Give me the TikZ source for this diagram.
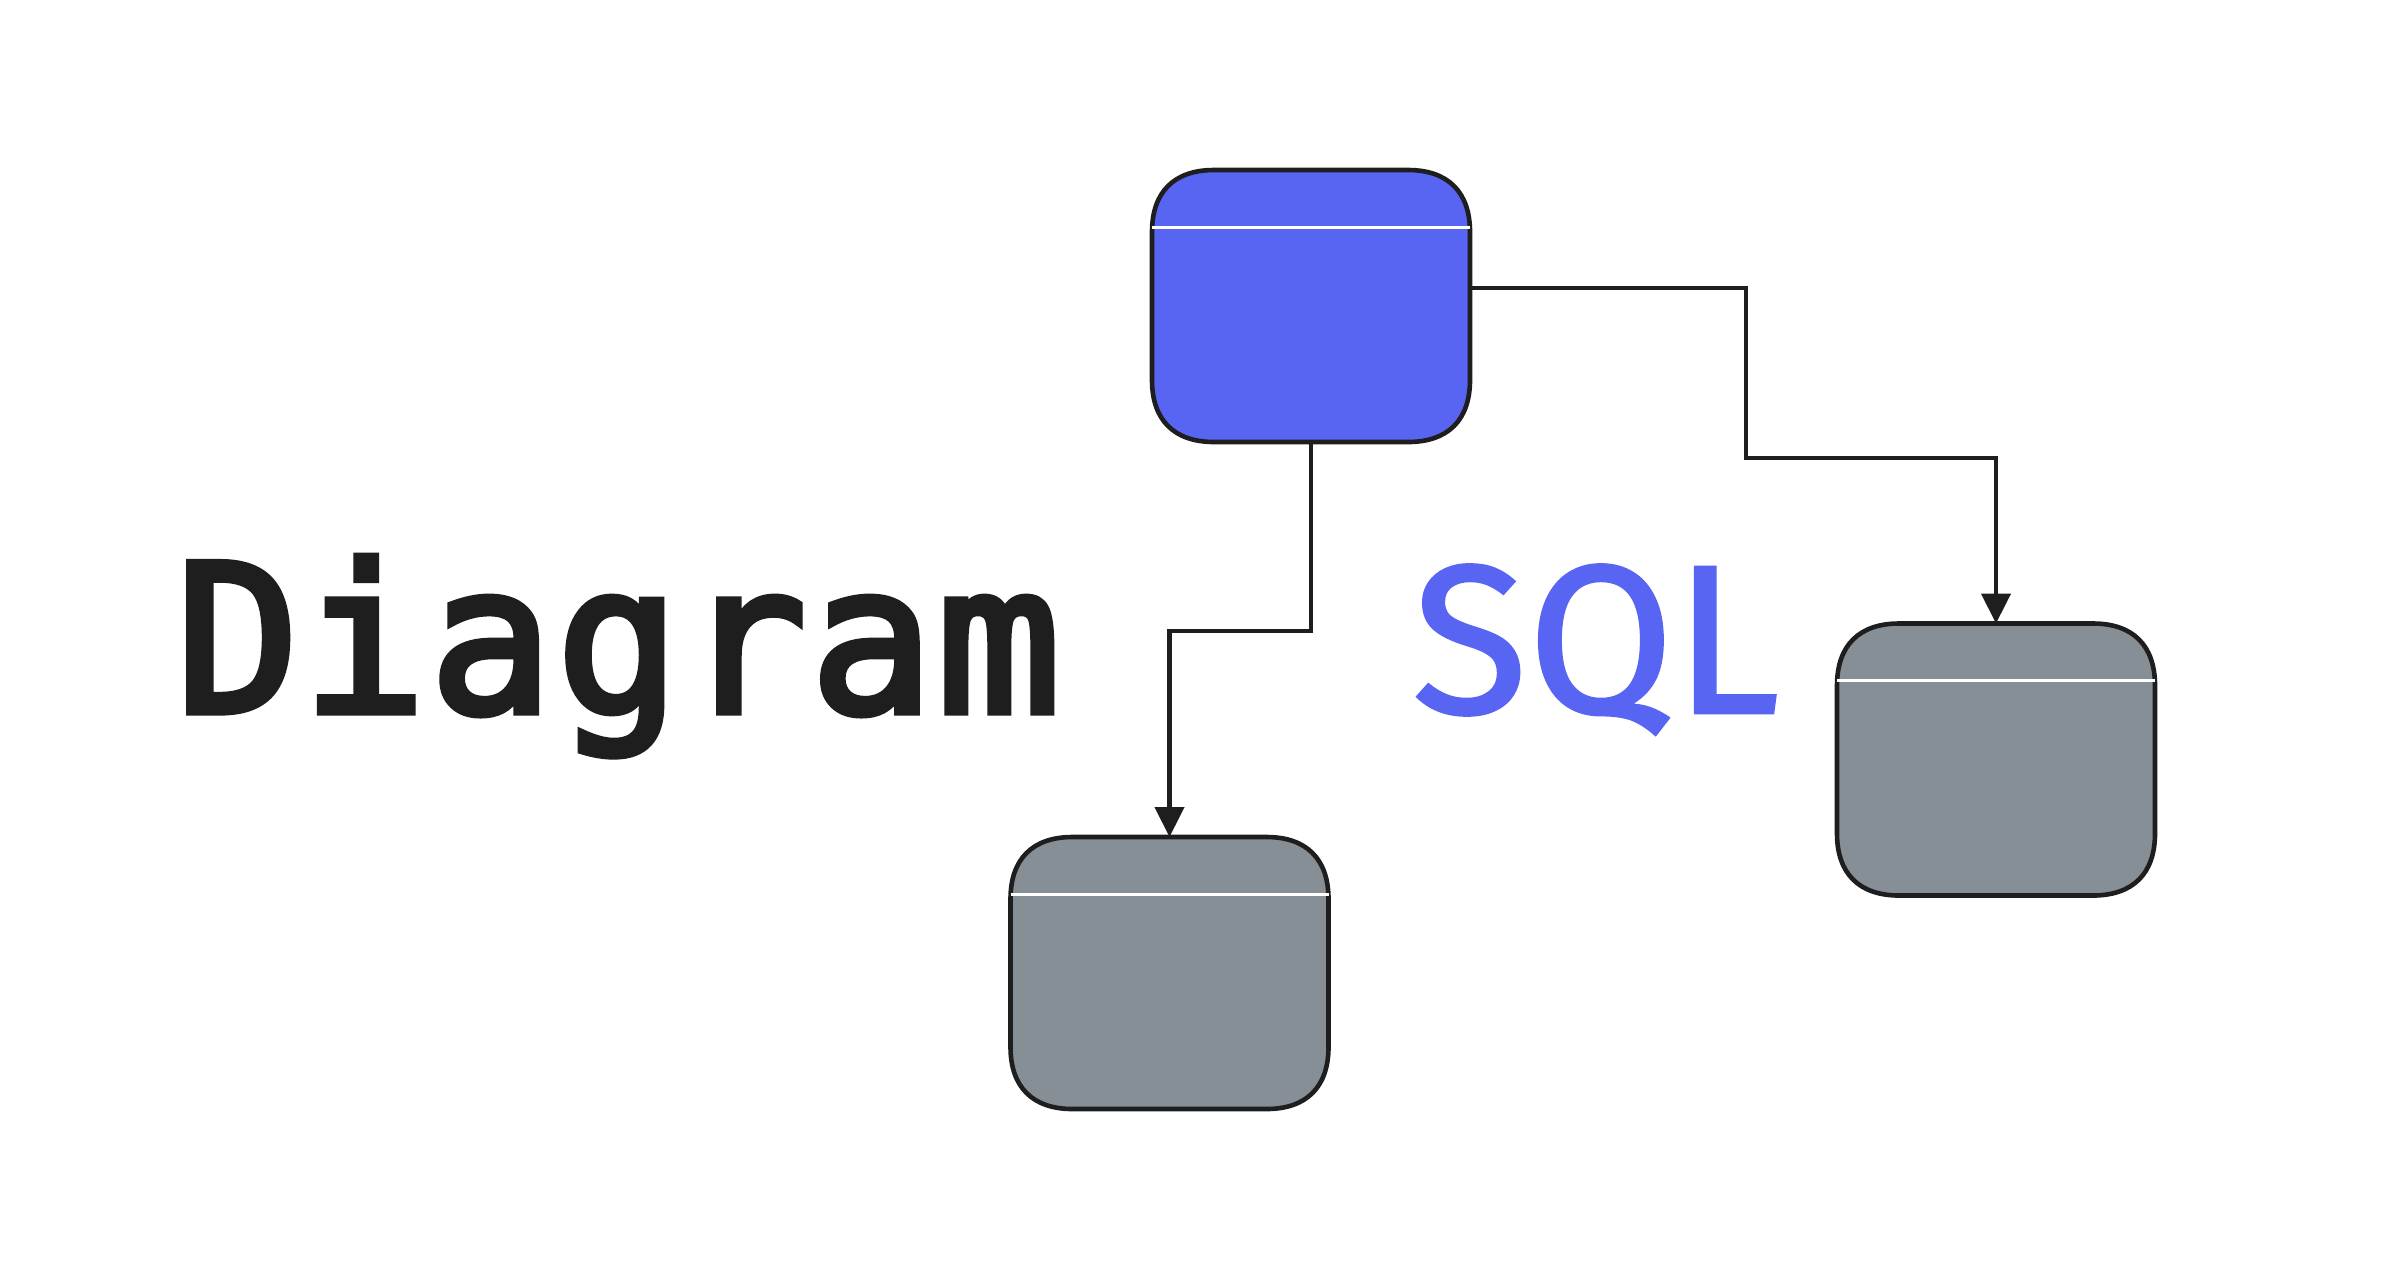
\documentclass[tikz,border=0pt]{standalone}
\usepackage{fontspec}
\usetikzlibrary{arrows.meta,calc}
\newfontfamily\labelmono{DejaVu Sans Mono}[FakeBold=3.5,LetterSpace=1.7]
\newfontfamily\labelsans{Fira Sans}[FakeBold=1.2]
\definecolor{blurple}{HTML}{5865F2}
\definecolor{slate}{HTML}{868E96}
\definecolor{ink}{HTML}{1E1E1E}
% table body: a soft-cornered box traced over the node's corners
% #1 node name, #2 fill colour
\newcommand\tablebody[2]{%
  \draw[fill=#2,draw=ink,line width=2.3pt]
    ($(#1.north west)+(0,62)$) .. controls ($(#1.north west)+(0,22)$) and ($(#1.north west)+(22,0)$) .. ($(#1.north west)+(62,0)$)
    -- ($(#1.north east)+(-62,0)$) .. controls ($(#1.north east)+(-22,0)$) and ($(#1.north east)+(0,22)$) .. ($(#1.north east)+(0,62)$)
    -- ($(#1.south east)+(0,-62)$) .. controls ($(#1.south east)+(0,-22)$) and ($(#1.south east)+(-22,0)$) .. ($(#1.south east)+(-62,0)$)
    -- ($(#1.south west)+(62,0)$) .. controls ($(#1.south west)+(22,0)$) and ($(#1.south west)+(0,-22)$) .. ($(#1.south west)+(0,-62)$)
    -- cycle;
  \draw[divider] ($(#1.north west)+(0,57)$) -- ($(#1.north east)+(0,57)$);
}
\begin{document}
\begin{tikzpicture}[x=0.5pt,y=-0.5pt,
  tablebox/.style={shape=rectangle,draw=none,minimum width=159pt,minimum height=136pt,
    inner sep=0pt,outer sep=0pt},
  divider/.style={draw=white,line width=1.5pt},
  conn/.style={draw=ink,line width=2.2pt,-{Triangle[length=15pt,width=14.5pt]}},
  title/.style={anchor=base west,inner sep=0pt,outer sep=0pt}]
  \useasboundingbox (0,0) rectangle (2406,1282);
  \fill[white] (0,0) rectangle (2406,1282);

  % tables
  \node[tablebox] (users) at (1311,306) {};
  \node[tablebox] (items) at (1996,759.5) {};
  \node[tablebox] (orders) at (1169.5,973) {};
  \tablebody{users}{blurple}
  \tablebody{items}{slate}
  \tablebody{orders}{slate}

  % relations
  \draw[conn] (users.south) -- ++(0,189) -| (orders.north);
  \draw[conn] ([yshift=9pt]users.east) -- ++(276,0) -- ++(0,170) -| (items.north);

  % labels
  \node[title,text=ink] (caption) at (176,712)
    {\labelmono\fontsize{102.5pt}{120pt}\selectfont Diagram};
  \node[title,text=blurple] (lang) at (1412,713)
    {\labelsans\fontsize{106pt}{120pt}\selectfont SQL};
\end{tikzpicture}
\end{document}
